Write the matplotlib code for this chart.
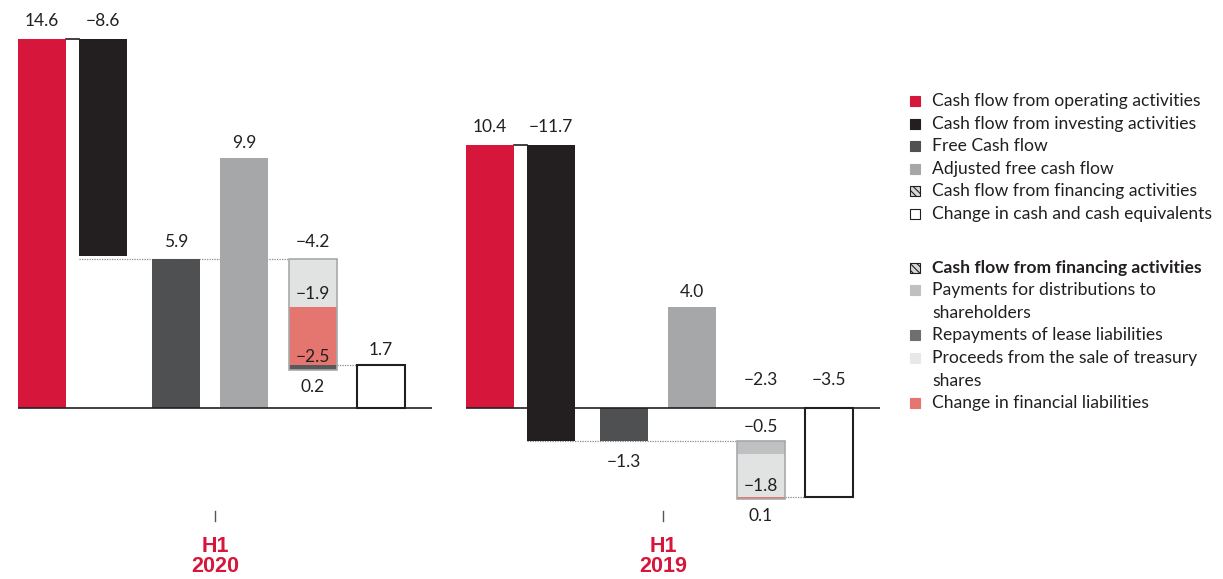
import matplotlib
matplotlib.use("Agg")
import matplotlib.pyplot as plt
from matplotlib.patches import Rectangle

# ------------------------------------------------------------------------------
# Data (EUR bn)
# ------------------------------------------------------------------------------
periods = ["H1\n2020", "H1\n2019"]
operating = [14.6, 10.4]
investing = [-8.6, -11.7]
free_cf = [5.9, -1.3]
adjusted_fcf = [9.9, 4.0]
financing = [-4.2, -2.3]
change_cash = [1.7, -3.5]

# financing components (top to bottom in the stack)
fin_2020 = [-1.9, -2.5, 0.2]
fin_2019 = [-0.5, -1.8, 0.1]

legend_main = ["Cash flow from operating activities",
               "Cash flow from investing activities",
               "Free Cash flow",
               "Adjusted free cash flow",
               "Cash flow from financing activities",
               "Change in cash and cash equivalents"]
legend_fin = ["Cash flow from financing activities",
              "Payments for distributions to\nshareholders",
              "Repayments of lease liabilities",
              "Proceeds from the sale of treasury\nshares",
              "Change in financial liabilities"]

# ------------------------------------------------------------------------------
# Style
# ------------------------------------------------------------------------------
RED = "#d7163b"
BLACK = "#231f20"
DARK = "#4f5052"
GRAY = "#a5a7a8"
LIGHT = "#e1e2e2"
MID = "#bfc0c1"
SALMON = "#e5756f"
LEASE = "#58595b"
TXT = "#231f20"
fin_colors = [[LIGHT, SALMON, LEASE], [MID, LIGHT, SALMON]]

plt.rcParams['font.family'] = ['Lato', 'DejaVu Sans']
plt.rcParams['hatch.linewidth'] = 0.8
W, H = 1223, 579
fig = plt.figure(figsize=(W / 100, H / 100), dpi=100)

PXU = 25.3          # pixels per unit
BASE = 408          # baseline pixel row
BW = 48             # bar width (px)
xs = [24, 85, 158, 226, 295, 363]
panel_left = [18, 466]
panel_w = 414


def fmt(v):
    return ("%.1f" % v).replace("-", "\u2212")


def lab(ax, x, y, v, dy):
    ax.annotate(fmt(v), (x, y), xytext=(0, dy * 0.72), textcoords="offset points",
                ha="center", va="center", fontsize=12.5, color=TXT, annotation_clip=False)


for i in range(2):
    ax = fig.add_axes([panel_left[i] / W, 0, panel_w / W, 1])
    ax.set_xlim(0, panel_w)
    ax.set_ylim(-(H - BASE) / PXU, BASE / PXU)
    ax.axis("off")

    op, inv, fcf, adj = operating[i], investing[i], free_cf[i], adjusted_fcf[i]
    fin, chg = financing[i], change_cash[i]
    parts = fin_2020 if i == 0 else fin_2019

    # bars
    ax.bar(xs[0], op, BW, color=RED, zorder=3)
    ax.bar(xs[1], inv, BW, bottom=op, color=BLACK, zorder=3)
    ax.bar(xs[2], fcf, BW, color=DARK, zorder=3)
    ax.bar(xs[3], adj, BW, color=GRAY, zorder=3)
    cur = fcf
    lows = []
    for v, c in zip(parts, fin_colors[i]):
        ax.bar(xs[4], v, BW, bottom=cur, color=c, zorder=3)
        lows.append(min(cur, cur + v))
        cur += v
    stack_top, stack_bot = fcf, min(lows)
    ax.add_patch(Rectangle((xs[4] - BW / 2, stack_bot), BW, stack_top - stack_bot,
                           fill=False, edgecolor="#a7a9aa", lw=1.2, zorder=4))
    ax.bar(xs[5], chg, BW, color="white", edgecolor=BLACK, lw=1.5, zorder=3)

    # connectors
    ax.plot([xs[0] + BW / 2, xs[1] - BW / 2], [op, op], color=BLACK, lw=1.2, zorder=2)
    ax.plot([xs[1] - BW / 2, xs[4] + BW / 2], [fcf, fcf], color="#888888", lw=0.9,
            ls=(0, (1, 1)), zorder=2)
    ax.plot([xs[4] + BW / 2, xs[5] - BW / 2], [chg, chg], color="#888888", lw=0.9,
            ls=(0, (1, 1)), zorder=2)
    ax.axhline(0, color=BLACK, lw=1.2, zorder=5)

    # value labels
    lab(ax, xs[0], op, op, 18)
    lab(ax, xs[1], op, inv, 18)
    if fcf >= 0:
        lab(ax, xs[2], fcf, fcf, 17)
    else:
        lab(ax, xs[2], fcf, fcf, -21)
    lab(ax, xs[3], adj, adj, 15)
    if stack_top >= 0:
        lab(ax, xs[4], stack_top, fin, 17)
    else:
        lab(ax, xs[4], 0, fin, 28)
    if chg >= 0:
        lab(ax, xs[5], chg, chg, 15)
    else:
        lab(ax, xs[5], 0, chg, 28)

    # component labels
    cur = fcf
    for k, v in enumerate(parts):
        lo = min(cur, cur + v)
        if k == len(parts) - 1:
            lab(ax, xs[4], stack_bot, v, -17)
        elif i == 1 and k == 0:
            lab(ax, xs[4], stack_top, v, 14)
        else:
            lab(ax, xs[4], lo, v, 13)
        cur += v

    # period label
    cx = 197
    ax.plot([cx, cx], [-(511 - BASE) / PXU, -(521 - BASE) / PXU], color="#555555",
            lw=1, clip_on=False)
    h1, yr = periods[i].split("\n")
    ax.text(cx, -(546 - BASE) / PXU, h1, ha="center", va="center", color=RED,
            fontsize=15.5, fontweight="bold", family=["Liberation Sans", "DejaVu Sans"])
    ax.text(cx, -(567 - BASE) / PXU, yr, ha="center", va="center", color=RED,
            fontsize=15.5, fontweight="bold", family=["Liberation Sans", "DejaVu Sans"])

# ------------------------------------------------------------------------------
# Legend (pixel coordinates)
# ------------------------------------------------------------------------------
lg = fig.add_axes([0, 0, 1, 1])
lg.set_xlim(0, W)
lg.set_ylim(H, 0)
lg.axis("off")
lg.patch.set_alpha(0)


def swatch(y, color, hatch=None, edge=None):
    lg.add_patch(Rectangle((910, y - 5), 10, 10, facecolor=color,
                           edgecolor=edge if edge else color, lw=0.8, hatch=hatch))


main_sw = [(RED, None, None), (BLACK, None, None), (DARK, None, None),
           (GRAY, None, None), ("#d8d8d8", "\\\\\\\\\\", BLACK), ("white", None, BLACK)]
ys_main = [101, 124, 146, 169, 191, 214]
for y, s, (c, h, e) in zip(ys_main, legend_main, main_sw):
    swatch(y, c, h, e)
    lg.text(932, y, s, va="center", ha="left", fontsize=12.6, color=TXT)

fin_sw = [("#d8d8d8", "\\\\\\\\\\", BLACK), (MID, None, None), ("#6e6f70", None, None),
          ("#e8e8e8", None, None), (SALMON, None, None)]
ys_fin = [268, 290, 335, 358, 403]
for k, (y, s, (c, h, e)) in enumerate(zip(ys_fin, legend_fin, fin_sw)):
    swatch(y, c, h, e)
    for j, line in enumerate(s.split("\n")):
        lg.text(932, y + 22.5 * j, line, va="center", ha="left", fontsize=12.6,
                color=TXT, fontweight="bold" if k == 0 else "normal")

fig.savefig("out.png", dpi=100)
